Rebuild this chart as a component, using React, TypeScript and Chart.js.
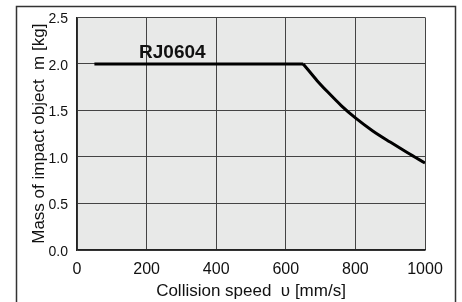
import React, { useEffect, useRef } from "react";
import { Chart, registerables } from "chart.js";

Chart.register(...registerables);

const flatSpeed = [50, 650];
const flatMass = [2.0, 2.0];
const curveSpeed = [650, 690, 720, 760, 800, 850, 900, 950, 1000];
const curveMass = [2.0, 1.82, 1.7, 1.55, 1.42, 1.28, 1.16, 1.045, 0.935];
const seriesLabel = "RJ0604";
const xTitle = "Collision speed  υ [mm/s]";
const yTitle = "Mass of impact object  m [kg]";

const FONT = "'Liberation Sans', Arial, sans-serif";

const decorPlugin = {
  id: "decor",
  beforeDraw(chart: any) {
    const { ctx, chartArea } = chart;
    ctx.save();
    ctx.fillStyle = "#e8e9e8";
    ctx.fillRect(chartArea.left, chartArea.top, chartArea.right - chartArea.left, chartArea.bottom - chartArea.top);
    ctx.restore();
  },
  afterDraw(chart: any) {
    const { ctx } = chart;
    const xs = chart.scales.x;
    const ys = chart.scales.y;
    ctx.save();
    ctx.strokeStyle = "#333";
    ctx.lineWidth = 1.5;
    ctx.strokeRect(16.5, 6.5, 439, 320);
    ctx.fillStyle = "#111";
    ctx.font = `bold 19px ${FONT}`;
    ctx.textAlign = "center";
    ctx.textBaseline = "alphabetic";
    ctx.fillText(seriesLabel, xs.getPixelForValue(274), ys.getPixelForValue(2.0) - 6);
    ctx.restore();
  },
};

export default function App() {
  const ref = useRef<HTMLCanvasElement>(null);
  useEffect(() => {
    if (!ref.current) return;
    const chart = new Chart(ref.current, {
      type: "line",
      data: {
        datasets: [
          {
            label: seriesLabel,
            data: flatSpeed.map((x, i) => ({ x, y: flatMass[i] })),
            borderColor: "#000",
            borderWidth: 3,
            pointRadius: 0,
            tension: 0,
            fill: false,
          },
          {
            label: seriesLabel + " curve",
            data: curveSpeed.map((x, i) => ({ x, y: curveMass[i] })),
            borderColor: "#000",
            borderWidth: 3,
            pointRadius: 0,
            cubicInterpolationMode: "monotone",
            fill: false,
          },
        ],
      },
      options: {
        animation: false,
        responsive: true,
        maintainAspectRatio: false,
        layout: { padding: { left: 0, right: 37, top: 17, bottom: 0 } },
        plugins: { legend: { display: false }, tooltip: { enabled: false } },
        scales: {
          x: {
            type: "linear",
            min: 0,
            max: 1000,
            afterFit: (s: any) => {
              s.height = 52;
            },
            ticks: {
              stepSize: 200,
              color: "#111",
              font: { family: FONT, size: 16 },
              padding: 10,
              maxRotation: 0,
              callback: (v: any) => String(v),
            },
            grid: { color: "#444", lineWidth: 1, drawTicks: false },
            border: { color: "#222", width: 1.5 },
            title: {
              display: true,
              text: xTitle,
              color: "#111",
              font: { family: FONT, size: 17 },
              padding: { top: 0, bottom: 0 },
            },
          },
          y: {
            type: "linear",
            min: 0,
            max: 2.5,
            afterFit: (s: any) => {
              s.width = 77;
            },
            ticks: {
              stepSize: 0.5,
              color: "#111",
              font: { family: FONT, size: 14 },
              padding: 9,
              labelOffset: 2,
              callback: (v: any) => Number(v).toFixed(1),
            },
            grid: { color: "#444", lineWidth: 1, drawTicks: false },
            border: { color: "#222", width: 1.5 },
            title: {
              display: true,
              text: yTitle,
              color: "#111",
              font: { family: FONT, size: 17 },
              padding: { top: 29, bottom: 0 },
            },
          },
        },
      },
      plugins: [decorPlugin],
    });
    return () => chart.destroy();
  }, []);
  return (
    <div style={{ position: "fixed", left: 0, top: 0, width: 462, height: 302, background: "#fff" }}>
      <canvas ref={ref} />
    </div>
  );
}
